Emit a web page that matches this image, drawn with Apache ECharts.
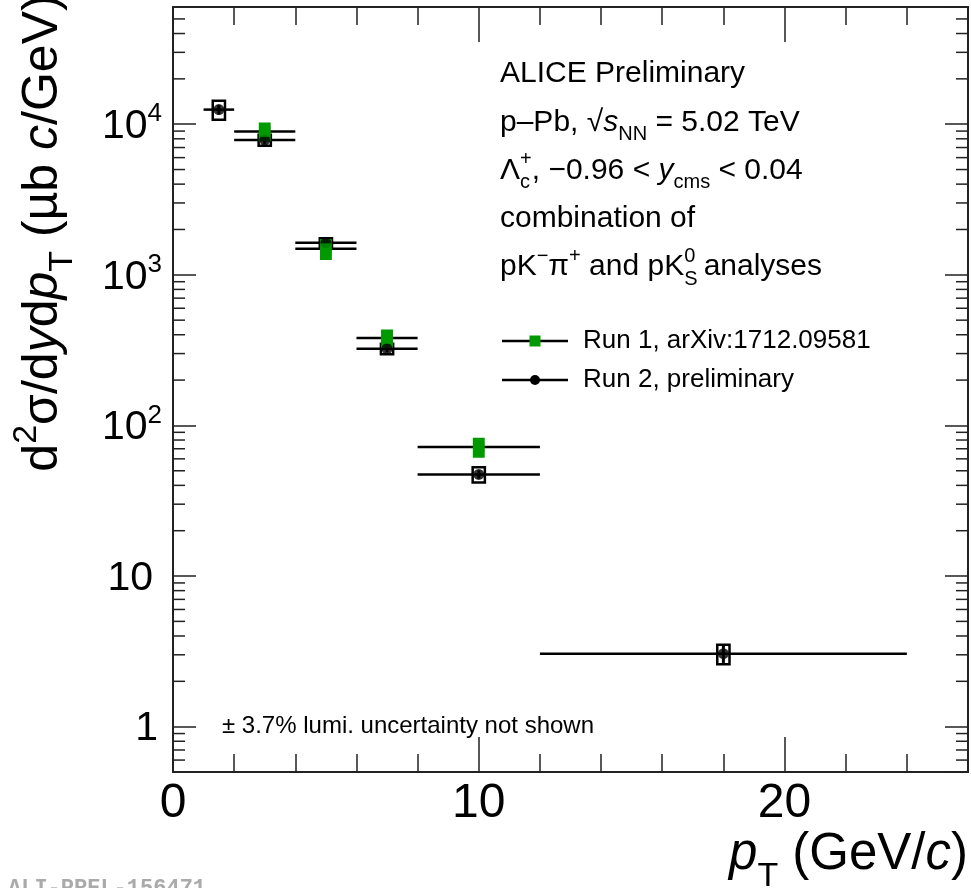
<!DOCTYPE html>
<html>
<head>
<meta charset="utf-8">
<script src="https://cdn.jsdelivr.net/npm/echarts@6/dist/echarts.min.js"></script>
<style>
  html, body { margin: 0; padding: 0; background: #fff; }
  #chart { width: 971px; height: 888px; }
</style>
</head>
<body>
<div id="chart"></div>
<script>
// Λc+ pT-differential cross section, p–Pb at √sNN = 5.02 TeV

// Run 2 (preliminary): bin centres, bin edges, values (µb c/GeV), stat. and syst. uncertainties
const run2Pt     = [1.5, 3, 5, 7, 10, 18];
const run2PtLow  = [1, 2, 4, 6, 8, 12];
const run2PtHigh = [2, 4, 6, 8, 12, 24];
const run2Xsec   = [12500, 7850, 1630, 323, 47.3, 3.05];
const run2Stat   = [900, 500, 80, 18, 3.0, 0.4];
const run2Syst   = [1800, 650, 120, 26, 5.5, 0.45];

// Run 1 (arXiv:1712.09581)
const run1Pt     = [3, 5, 7, 10];
const run1PtLow  = [2, 4, 6, 8];
const run1PtHigh = [4, 6, 8, 12];
const run1Xsec   = [8960, 1487, 380, 71.8];
const run1Stat   = [500, 90, 20, 4];
const run1Syst   = [1200, 220, 48, 10];

// Axis ranges and tick values
const xRange = [0, 26];
const yRange = [0.5, 60000];
const xMinorStep = 2;
const xMajorStep = 10;
const yMinorTickValues = [
  0.6, 0.7, 0.8, 0.9,
  2, 3, 4, 5, 6, 7, 8, 9,
  20, 30, 40, 50, 60, 70, 80, 90,
  200, 300, 400, 500, 600, 700, 800, 900,
  2000, 3000, 4000, 5000, 6000, 7000, 8000, 9000,
  20000, 30000, 40000, 50000
];

const FONT = '"Liberation Sans", Arial, Helvetica, sans-serif';
const GREEN = '#009a00';
const FRAME = '#222';

const chart = echarts.init(document.getElementById('chart'), null, { renderer: 'canvas' });

function xAxisDef(position, interval, tickLen, showLabels) {
  return {
    type: 'value', position: position, min: xRange[0], max: xRange[1], interval: interval,
    axisLine: { show: true, onZero: false, lineStyle: { color: FRAME, width: 2 } },
    axisTick: { show: true, inside: true, length: tickLen, lineStyle: { color: FRAME, width: 1.5 } },
    axisLabel: {
      show: showLabels, fontFamily: FONT, fontSize: 48, color: '#000', margin: 8,
      showMaxLabel: false
    },
    splitLine: { show: false }
  };
}

function yLabel(v) {
  const e = Math.round(Math.log10(v));
  if (e === 0) return '{one|1}';
  if (e === 1) return '{ten|10}';
  return '{b|10}{sup|' + e + '}';
}

function yAxisDef(position, showLabels) {
  return {
    type: 'log', logBase: 10, position: position, min: yRange[0], max: yRange[1],
    axisLine: { show: true, onZero: false, lineStyle: { color: FRAME, width: 2 } },
    axisTick: { show: true, inside: true, length: 23, lineStyle: { color: FRAME, width: 1.5 } },
    axisLabel: {
      show: showLabels, fontFamily: FONT, fontSize: 41, color: '#000', margin: 11,
      showMinLabel: false, showMaxLabel: false,
      formatter: yLabel,
      rich: {
        b:   { fontFamily: FONT, fontSize: 41, color: '#000', padding: [5, 0, 0, 0] },
        ten: { fontFamily: FONT, fontSize: 41, color: '#000', padding: [5, 9, 0, 0] },
        one: { fontFamily: FONT, fontSize: 41, color: '#000', padding: [5, 4, 0, 0] },
        sup: { fontFamily: FONT, fontSize: 26, color: '#000', padding: [0, 0, 20, 0] }
      }
    },
    splitLine: { show: false }
  };
}

// horizontal bars spanning the pT bin
function binWidthBar(color) {
  return function (params, api) {
    const y = api.value(1);
    const a = api.coord([api.value(2), y]);
    const b = api.coord([api.value(3), y]);
    return { type: 'line', shape: { x1: a[0], y1: a[1], x2: b[0], y2: b[1] },
             style: { stroke: color, lineWidth: 2.5 } };
  };
}

// systematic-uncertainty boxes
function systBox(halfWidth, stroke, fill, lw) {
  return function (params, api) {
    const x = api.value(0), y = api.value(1), s = api.value(2);
    const a = api.coord([x - halfWidth, y + s]);
    const b = api.coord([x + halfWidth, y - s]);
    return { type: 'rect', shape: { x: a[0], y: a[1], width: b[0] - a[0], height: b[1] - a[1] },
             style: { stroke: stroke, fill: fill, lineWidth: lw } };
  };
}

// statistical error bars
function statBar(color, lw) {
  return function (params, api) {
    const x = api.value(0), y = api.value(1), s = api.value(2);
    const a = api.coord([x, y + s]);
    const b = api.coord([x, y - s]);
    return { type: 'line', shape: { x1: a[0], y1: a[1], x2: b[0], y2: b[1] },
             style: { stroke: color, lineWidth: lw } };
  };
}

// minor log ticks on the left and right frame edges
function yMinorTick(params, api) {
  const cs = params.coordSys;
  const p = api.coord([xRange[0], api.value(1)]);
  return {
    type: 'group',
    children: [
      { type: 'line', shape: { x1: cs.x, y1: p[1], x2: cs.x + 12, y2: p[1] },
        style: { stroke: FRAME, lineWidth: 1.5 } },
      { type: 'line', shape: { x1: cs.x + cs.width, y1: p[1], x2: cs.x + cs.width - 12, y2: p[1] },
        style: { stroke: FRAME, lineWidth: 1.5 } }
    ]
  };
}

const run2Bins = run2Pt.map((x, i) => [x, run2Xsec[i], run2PtLow[i], run2PtHigh[i]]);
const run1Bins = run1Pt.map((x, i) => [x, run1Xsec[i], run1PtLow[i], run1PtHigh[i]]);
const run2SystData = run2Pt.map((x, i) => [x, run2Xsec[i], run2Syst[i]]);
const run1SystData = run1Pt.map((x, i) => [x, run1Xsec[i], run1Syst[i]]);
const run2StatData = run2Pt.map((x, i) => [x, run2Xsec[i], run2Stat[i]]);
const run1StatData = run1Pt.map((x, i) => [x, run1Xsec[i], run1Stat[i]]);
const run2Points = run2Pt.map((x, i) => [x, run2Xsec[i]]);
const run1Points = run1Pt.map((x, i) => [x, run1Xsec[i]]);

const txt = { fontFamily: FONT, fill: '#000' };
const richSmall = {
  it:   { fontFamily: FONT, fontSize: 30, fontStyle: 'italic', fill: '#000' },
  sub:  { fontFamily: FONT, fontSize: 20, fill: '#000', padding: [24, 0, 0, 0] },
  sup:  { fontFamily: FONT, fontSize: 20, fill: '#000', padding: [0, 0, 22, 0] },
  stk:  { fontFamily: FONT, fontSize: 20, fill: '#000', padding: [24, 0, 0, 0], width: 0 }
};

function textLine(str, x, y, size) {
  return {
    type: 'text', x: x, y: y, silent: true,
    style: Object.assign({}, txt, {
      text: str, fontSize: size, align: 'left', verticalAlign: 'middle',
      textAlign: 'left', textVerticalAlign: 'middle', rich: richSmall
    })
  };
}

const annotationLines = [
  'ALICE Preliminary',
  'p–Pb, √{it|s}{sub|NN} = 5.02 TeV',
  'Λ{stk|c}{sup|+}, −0.96 < {it|y}{sub|cms} < 0.04',
  'combination of',
  'pK{sup|−}π{sup|+} and pK{stk|S}{sup|0} analyses'
];
const annotationTop = 74;
const annotationStep = 48.3;

const graphics = [];
annotationLines.forEach((s, i) => graphics.push(textLine(s, 500, annotationTop + i * annotationStep, 30)));

// legend
graphics.push(
  { type: 'line', shape: { x1: 502, y1: 341, x2: 568, y2: 341 }, style: { stroke: '#000', lineWidth: 2.5 }, silent: true },
  { type: 'rect', shape: { x: 529.5, y: 335.5, width: 11, height: 11 }, style: { fill: GREEN }, silent: true },
  textLine('Run 1, arXiv:1712.09581', 583, 341, 26),
  { type: 'line', shape: { x1: 502, y1: 380, x2: 568, y2: 380 }, style: { stroke: '#000', lineWidth: 2.5 }, silent: true },
  { type: 'circle', shape: { cx: 535, cy: 380, r: 5 }, style: { fill: '#000' }, silent: true },
  textLine('Run 2, preliminary', 583, 380, 26),
  textLine('± 3.7% lumi. uncertainty not shown', 222, 726, 24)
);

// axis titles
graphics.push({
  type: 'text', x: 43, y: 233, rotation: Math.PI / 2, silent: true,
  style: {
    text: 'd{sup|2}σ/d{it|y}d{it|p}{sub|T} (µb {it|c}/GeV)',
    fontFamily: FONT, fontSize: 50, fill: '#000',
    align: 'center', verticalAlign: 'middle', textAlign: 'center', textVerticalAlign: 'middle',
    rich: {
      it:  { fontFamily: FONT, fontSize: 50, fontStyle: 'italic', fill: '#000' },
      sup: { fontFamily: FONT, fontSize: 34, fill: '#000', padding: [0, 0, 32, 0] },
      sub: { fontFamily: FONT, fontSize: 34, fill: '#000', padding: [40, 0, 0, 0] }
    }
  }
});
graphics.push({
  type: 'text', x: 968, y: 855, silent: true,
  style: {
    text: '{it|p}{sub|T} (GeV/{it|c})',
    fontFamily: FONT, fontSize: 51, fill: '#000',
    align: 'right', verticalAlign: 'middle', textAlign: 'right', textVerticalAlign: 'middle',
    rich: {
      it:  { fontFamily: FONT, fontSize: 51, fontStyle: 'italic', fill: '#000' },
      sub: { fontFamily: FONT, fontSize: 34, fill: '#000', padding: [44, 0, 0, 0] }
    }
  }
});
// figure identifier
graphics.push({
  type: 'text', x: 8, y: 888, silent: true,
  style: {
    text: 'ALI-PREL-156471', fontFamily: '"Liberation Mono", "DejaVu Sans Mono", monospace',
    fontSize: 22, fontWeight: 'bold', fill: '#aaa',
    align: 'left', verticalAlign: 'middle', textAlign: 'left', textVerticalAlign: 'middle'
  }
});

chart.setOption({
  animation: false,
  backgroundColor: '#fff',
  grid: { left: 173, top: 7, right: 3, bottom: 116, containLabel: false },
  xAxis: [
    xAxisDef('bottom', xMinorStep, 18, false),
    xAxisDef('bottom', xMajorStep, 35, true),
    xAxisDef('top', xMinorStep, 18, false),
    xAxisDef('top', xMajorStep, 35, false)
  ],
  yAxis: [
    yAxisDef('left', true),
    yAxisDef('right', false)
  ],
  series: [
    { type: 'custom', name: 'minor ticks', renderItem: yMinorTick, silent: true, clip: false,
      data: yMinorTickValues.map(v => [xRange[0], v]) },
    { type: 'custom', name: 'Run 2 bins', renderItem: binWidthBar('#000'), data: run2Bins, silent: true },
    { type: 'custom', name: 'Run 1 bins', renderItem: binWidthBar('#000'), data: run1Bins, silent: true },
    { type: 'custom', name: 'Run 2 syst', renderItem: systBox(0.2, '#000', 'rgba(255,255,255,0)', 2.5), data: run2SystData, silent: true },
    { type: 'custom', name: 'Run 2 stat', renderItem: statBar('#000', 3), data: run2StatData, silent: true },
    { type: 'scatter', name: 'Run 2, preliminary', data: run2Points, symbol: 'circle', symbolSize: 11,
      itemStyle: { color: '#000' }, silent: true },
    { type: 'custom', name: 'Run 1 syst', renderItem: systBox(0.17, GREEN, GREEN, 1.5), data: run1SystData, silent: true },
    { type: 'custom', name: 'Run 1 stat', renderItem: statBar(GREEN, 2), data: run1StatData, silent: true },
    { type: 'scatter', name: 'Run 1, arXiv:1712.09581', data: run1Points, symbol: 'rect', symbolSize: 11,
      itemStyle: { color: GREEN }, silent: true }
  ],
  graphic: graphics
});
</script>
</body>
</html>
